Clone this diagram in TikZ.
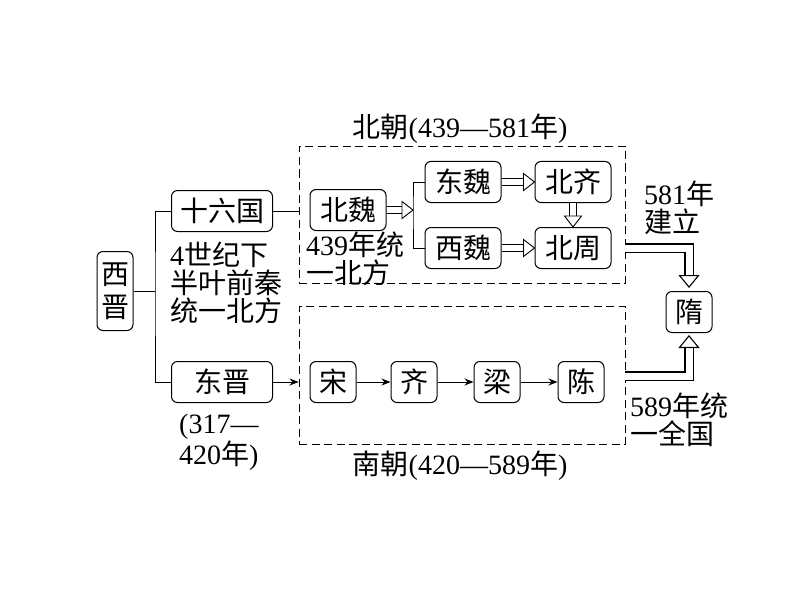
\documentclass[tikz,border=0pt]{standalone}
\usepackage{fontspec}
\setmainfont{Liberation Serif}
\newfontfamily\cjk{Noto Sans CJK SC}
\newcommand\han[1]{{\cjk #1}}
\usetikzlibrary{arrows.meta,calc}
% open arrow made of a double shaft and a white triangle
\newcommand\hollowarrow[2]{%
  \coordinate (hb) at ($(#2)!11pt!(#1)$);
  \draw[double,double distance=5.5pt,line width=0.9pt] (#1) -- (hb);
  \draw[line width=0.9pt,fill=white,line join=miter]
    (#2) -- ($(hb)!8.5pt!90:(#2)$) -- ($(hb)!8.5pt!-90:(#2)$) -- cycle;}

\begin{document}
\begin{tikzpicture}[x=1pt,y=-1pt,
    box/.style={draw,line width=1pt,rounded corners=6pt,minimum height=41pt,
      minimum width=46pt,inner sep=2pt,font=\cjk\fontsize{28}{30}\selectfont},
    txt/.style={inner sep=0pt,anchor=west,align=left,font=\fontsize{28}{28}\selectfont},
    zone/.style={draw,line width=0.9pt,dash pattern=on 8pt off 4.5pt},
    bighollow/.style={double,double distance=7pt,line width=1.1pt,
      -{Triangle[fill=white,line width=1.1pt,length=13pt,width=21pt]}},
    thin/.style={line width=0.9pt,-{Stealth[length=9pt,width=7pt]}}]
  \useasboundingbox (0,0) rectangle (794,596);

  % left part
  \node[box,minimum width=36pt,minimum height=79pt,align=center,
    font=\cjk\fontsize{28}{33}\selectfont] (xijin) at (115,291) {西\\晋};
  \node[box,minimum width=101pt] (shiliu) at (222,211) {十六国};
  \node[box,minimum width=101pt] (dongjin) at (222,382) {东晋};
  \coordinate (fork) at (155,291);
  \draw[line width=1pt] (xijin.east) -- (fork);
  \draw[line width=1pt] (shiliu.west) -| (fork) |- (dongjin.west);
  \node[txt] (qinnote) at (170,283) {4\han{世纪下}\\\han{半叶前秦}\\\han{统一北方}};
  \node[txt] (jinnote) at (179,442) {(317—\\420\han{年})};

  % dashed zones
  \node[zone,minimum width=326pt,minimum height=137pt] (north) at (462,214.5) {};
  \node[zone,minimum width=326pt,minimum height=138pt] (south) at (462,375) {};
  \node[txt,anchor=center] (northlab) at (460,129) {\han{北朝}(439—581\han{年})};
  \node[txt,anchor=center] (southlab) at (460,466) {\han{南朝}(420—589\han{年})};

  % north
  \node[box,minimum width=76pt] (beiwei) at (348,210) {北魏};
  \node[txt] (weinote) at (306,259) {439\han{年统}\\\han{一北方}};
  \node[box,minimum width=76pt] (dongwei) at (463,182) {东魏};
  \node[box,minimum width=76pt] (xiwei) at (463,248) {西魏};
  \node[box,minimum width=76pt] (beiqi) at (573,182) {北齐};
  \node[box,minimum width=76pt] (beizhou) at (573,248) {北周};
  \coordinate (split) at (413,210);
  \draw[line width=1pt] (dongwei.west) -| (split) |- (xiwei.west);
  \hollowarrow{beiwei.east}{split}
  \hollowarrow{dongwei.east}{beiqi.west}
  \hollowarrow{xiwei.east}{beizhou.west}
  \hollowarrow{beiqi.south}{beizhou.north}
  \draw[line width=1pt] (shiliu.east) -- (north.west |- shiliu);

  % south
  \node[box] (song) at (333,382) {宋};
  \node[box] (qi) at (414,382) {齐};
  \node[box] (liang) at (497,382) {梁};
  \node[box] (chen) at (581,382) {陈};
  \draw[thin] (dongjin.east) -- (south.west |- dongjin);
  \draw[thin] (song) -- (qi);
  \draw[thin] (qi) -- (liang);
  \draw[thin] (liang) -- (chen);

  % sui
  \node[box] (sui) at (689,312) {隋};
  \draw[bighollow,shorten >=3pt] (north.east |- beizhou) -| (sui.north);
  \draw[bighollow,shorten >=2pt] ([yshift=6pt]south.east |- chen) -| (sui.south);
  \node[txt] (founded) at (644,208) {581\han{年}\\\han{建立}};
  \node[txt] (unified) at (630,420) {589\han{年统}\\\han{一全国}};
\end{tikzpicture}
\end{document}
